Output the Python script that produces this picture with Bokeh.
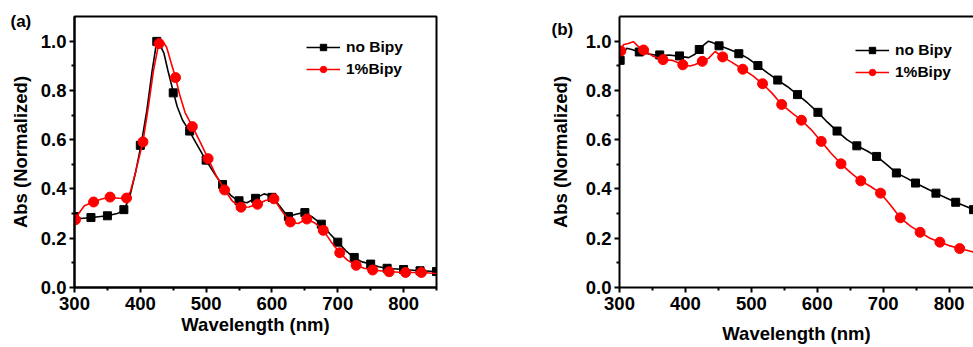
from bokeh.plotting import figure
from bokeh.layouts import row
from bokeh.models import (FixedTicker, Legend, LegendItem, LinearAxis,
                          Range1d, NumeralTickFormatter)
from bokeh.embed import file_html
from bokeh.resources import INLINE

# ---------------- data: panel (a) ----------------
a_black_wl = [300, 310, 326, 350, 365, 376, 385, 393, 401, 410, 418, 425, 430, 436, 442,
              450, 456, 464, 474, 485, 499.5, 512, 524, 537, 549, 562, 575, 588, 600,
              612, 624, 638, 649.5, 662, 675, 688, 700, 712, 724, 737, 750, 762, 775,
              800, 824, 850]
a_black_abs = [0.292, 0.280, 0.284, 0.291, 0.300, 0.316, 0.380, 0.470, 0.577, 0.720, 0.880,
               1.000, 0.985, 0.950, 0.880, 0.795, 0.735, 0.680, 0.638, 0.585, 0.517, 0.465,
               0.418, 0.375, 0.351, 0.344, 0.362, 0.380, 0.370, 0.330, 0.288, 0.298,
               0.305, 0.285, 0.258, 0.218, 0.184, 0.150, 0.122, 0.104, 0.095, 0.084,
               0.078, 0.073, 0.068, 0.065]
a_black_mk_wl = [300, 325, 350, 375, 400, 425, 450, 475, 500, 525, 550, 575, 600, 625, 650,
                 675, 700, 725, 750, 775, 800, 825, 850]
a_black_mk_abs = [0.288, 0.284, 0.291, 0.316, 0.577, 0.999, 0.790, 0.635, 0.517, 0.418,
                  0.352, 0.362, 0.366, 0.288, 0.304, 0.257, 0.184, 0.122, 0.095, 0.078,
                  0.073, 0.068, 0.065]

a_red_wl = [300, 305, 315, 329, 340, 354, 366, 379, 385, 392, 404, 412, 420, 428, 434, 440,
            447, 453.5, 460, 468, 479, 491, 503, 515, 528, 540, 553, 565, 578, 590, 603,
            615, 628, 640, 653, 665, 678, 690, 703, 715, 728, 740, 753, 778, 803, 827, 850]
a_red_abs = [0.268, 0.295, 0.332, 0.347, 0.358, 0.367, 0.362, 0.363, 0.390, 0.460, 0.592,
             0.730, 0.880, 0.990, 1.000, 0.975, 0.910, 0.852, 0.780, 0.710, 0.654, 0.590,
             0.523, 0.455, 0.397, 0.350, 0.326, 0.327, 0.338, 0.353, 0.360, 0.310, 0.266,
             0.260, 0.278, 0.262, 0.232, 0.185, 0.141, 0.110, 0.090, 0.078, 0.071, 0.064,
             0.061, 0.061, 0.057]
a_red_mk_wl = [301.5, 329, 354, 379, 404, 428.5, 453.5, 479, 503, 528, 553, 578, 603, 628,
               653, 678, 703, 728, 753, 778, 803, 827]
a_red_mk_abs = [0.275, 0.347, 0.367, 0.363, 0.591, 0.990, 0.852, 0.653, 0.523, 0.396, 0.326,
                0.338, 0.360, 0.266, 0.278, 0.232, 0.141, 0.090, 0.071, 0.064, 0.061, 0.061]

# ---------------- data: panel (b) ----------------
b_black_wl = [300, 305, 311, 320, 331, 345, 362, 375, 392, 405, 415, 421, 428, 435, 442,
              451, 465, 481, 495, 510, 525, 540, 555, 570, 585, 601, 615, 630, 645, 660,
              675, 690, 705, 720, 735, 749, 765, 780, 795, 810, 825, 837]
b_black_abs = [0.920, 0.950, 0.971, 0.965, 0.955, 0.948, 0.940, 0.944, 0.938, 0.933, 0.948,
               0.966, 0.985, 1.000, 0.993, 0.982, 0.968, 0.951, 0.930, 0.901, 0.870, 0.842,
               0.815, 0.783, 0.750, 0.711, 0.672, 0.635, 0.600, 0.575, 0.555, 0.532, 0.500,
               0.465, 0.445, 0.424, 0.403, 0.383, 0.364, 0.346, 0.330, 0.316]
b_black_mk_wl = [301, 330, 361, 391, 421, 451, 481, 510, 540, 570, 601, 630, 660, 690, 720,
                 749, 780, 810, 837]
b_black_mk_abs = [0.922, 0.956, 0.944, 0.940, 0.966, 0.981, 0.949, 0.901, 0.842, 0.783,
                  0.711, 0.635, 0.575, 0.532, 0.465, 0.424, 0.383, 0.346, 0.316]

b_red_wl = [300, 306, 313, 321, 328, 336.5, 350, 366, 380, 396, 407, 415, 425.6, 435, 445,
            456.5, 470, 487, 502, 517, 531, 546, 561, 576, 591, 606, 621, 636, 651, 666,
            681, 696, 711, 726, 741, 756, 771, 786, 800, 816, 828, 837]
b_red_abs = [0.955, 0.985, 0.990, 0.998, 0.980, 0.964, 0.940, 0.925, 0.922, 0.904, 0.899,
             0.905, 0.918, 0.930, 0.958, 0.936, 0.915, 0.886, 0.860, 0.827, 0.790, 0.743,
             0.710, 0.679, 0.640, 0.593, 0.545, 0.502, 0.465, 0.433, 0.410, 0.383, 0.335,
             0.283, 0.250, 0.224, 0.200, 0.184, 0.170, 0.158, 0.150, 0.144]
b_red_mk_wl = [302, 336.5, 366, 396, 425.6, 456.5, 487, 517, 546, 576, 606, 636, 666, 696,
               726, 756, 786, 816]
b_red_mk_abs = [0.960, 0.964, 0.925, 0.904, 0.918, 0.936, 0.886, 0.827, 0.743, 0.679,
                0.593, 0.502, 0.433, 0.383, 0.283, 0.224, 0.184, 0.158]

# ---------------- ticks / labels ----------------
x_ticks = [300, 400, 500, 600, 700, 800]
x_minor = [350, 450, 550, 650, 750, 850]
y_ticks = [0.0, 0.2, 0.4, 0.6, 0.8, 1.0]
y_minor = [0.1, 0.3, 0.5, 0.7, 0.9]
series_names = ["no Bipy", "1%Bipy"]
panel_tags = ["(a)", "(b)"]
x_title = "Wavelength (nm)"
y_title = "Abs (Normalized)"

FONT = "Liberation Sans"
BLACK = "#000000"
RED = "#ff0000"
H = 347


def style_axis(ax, standoff, label_standoff):
    ax.axis_line_width = 2
    ax.axis_line_color = BLACK
    ax.major_tick_line_width = 2
    ax.minor_tick_line_width = 2
    ax.major_tick_out = 5
    ax.major_tick_in = 0
    ax.minor_tick_out = 3
    ax.minor_tick_in = 0
    ax.major_label_text_font = FONT
    ax.major_label_text_font_style = "bold"
    ax.major_label_text_font_size = "18.5px"
    ax.major_label_text_color = BLACK
    ax.major_label_standoff = standoff
    ax.axis_label_text_font = FONT
    ax.axis_label_text_font_style = "bold"
    ax.axis_label_text_font_size = "18.5px"
    ax.axis_label_text_color = BLACK
    ax.axis_label_standoff = label_standoff


def make_panel(width, x_end, mbl, mbr, mbt, mbb, data, legend_xy, tag, tag_offset,
               tag_standoff, outline=True, xlab_standoff=1, ylab_standoff=6):
    p = figure(width=width, height=H, x_range=Range1d(300, x_end), y_range=Range1d(0, 1.1),
               output_backend="svg", toolbar_location=None,
               min_border_left=mbl, min_border_right=mbr, min_border_top=mbt,
               min_border_bottom=mbb)
    p.xgrid.visible = False
    p.ygrid.visible = False
    p.background_fill_color = "white"
    p.border_fill_color = "white"

    # panel tag drawn by the figure's title, pulled left of / down beside the frame
    p.title.text = tag
    p.title.align = "left"
    p.title.vertical_align = "bottom"
    p.title.offset = tag_offset
    p.title.standoff = tag_standoff
    p.title.text_font = FONT
    p.title.text_font_style = "bold"
    p.title.text_font_size = "17px"
    p.title.text_color = BLACK

    xa = p.below[0]
    ya = p.left[0]
    xa.ticker = FixedTicker(ticks=x_ticks, minor_ticks=x_minor)
    ya.ticker = FixedTicker(ticks=y_ticks, minor_ticks=y_minor)
    ya.formatter = NumeralTickFormatter(format="0.0")
    xa.axis_label = x_title
    ya.axis_label = y_title
    style_axis(xa, 4, xlab_standoff)
    style_axis(ya, 3, ylab_standoff)

    if outline:
        p.outline_line_color = BLACK
        p.outline_line_width = 2
        p.outline_line_alpha = 1
    else:
        p.outline_line_color = None
        top = LinearAxis(ticker=FixedTicker(ticks=[]), major_label_text_font_size="0px",
                         major_tick_out=0, major_tick_in=0, minor_tick_out=0,
                         minor_tick_in=0, axis_line_width=2, axis_line_color=BLACK)
        p.add_layout(top, "above")

    (bw, ba, bmw, bma, rw, ra, rmw, rma) = data
    lb = p.line(bw, ba, line_color=BLACK, line_width=1.6)
    sb = p.scatter(bmw, bma, marker="square", size=8, fill_color=BLACK, line_color=BLACK)
    lr = p.line(rw, ra, line_color=RED, line_width=1.6)
    sr = p.scatter(rmw, rma, marker="circle", size=10, fill_color=RED, line_color=RED)

    legend = Legend(items=[LegendItem(label=series_names[0], renderers=[lb, sb]),
                           LegendItem(label=series_names[1], renderers=[lr, sr])],
                    location=legend_xy, glyph_width=34, glyph_height=16, label_height=16,
                    spacing=4, padding=0, margin=0, label_standoff=6,
                    border_line_color=None, background_fill_alpha=0,
                    label_text_font=FONT, label_text_font_style="bold",
                    label_text_font_size="15.5px", label_text_color=BLACK)
    p.add_layout(legend)
    return p


pa = make_panel(490, 850, 74, 54, 16, 60,
                (a_black_wl, a_black_abs, a_black_mk_wl, a_black_mk_abs,
                 a_red_wl, a_red_abs, a_red_mk_wl, a_red_mk_abs),
                (232, 209), panel_tags[0], -64, -28, outline=True,
                xlab_standoff=1, ylab_standoff=7)

pb = make_panel(483, 837, 129, 0, 16, 60,
                (b_black_wl, b_black_abs, b_black_mk_wl, b_black_mk_abs,
                 b_red_wl, b_red_abs, b_red_mk_wl, b_red_mk_abs),
                (236, 206), panel_tags[1], -68, -44, outline=False,
                xlab_standoff=10, ylab_standoff=12)

layout = row(pa, pb)
open("out.html", "w").write(file_html(layout, INLINE))
